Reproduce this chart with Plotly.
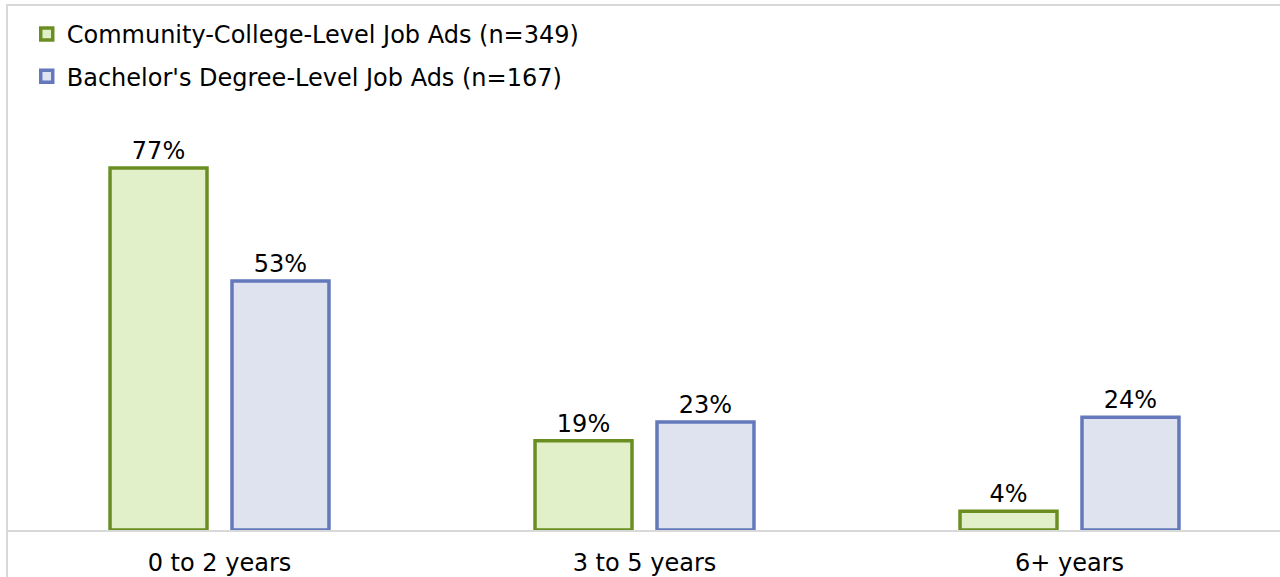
import plotly.graph_objects as go

categories = ["0 to 2 years", "3 to 5 years", "6+ years"]
cc_values = [77, 19, 4]
ba_values = [53, 23, 24]
cc_name = "Community-College-Level Job Ads (n=349)"
ba_name = "Bachelor's Degree-Level Job Ads (n=167)"

FONT = "DejaVu Sans"
FS = 24
fig = go.Figure()
fig.add_trace(go.Bar(
    x=categories, y=cc_values, name=cc_name, legendgroup="a",
    marker=dict(color="#E2F0C9", line=dict(color="#6B8E23", width=3.5)),
    text=[f"{v}%" for v in cc_values], textposition="outside",
    textfont=dict(size=FS, color="#000000", family=FONT), cliponaxis=False,
))
fig.add_trace(go.Bar(
    x=categories, y=ba_values, name=ba_name, legendgroup="b",
    marker=dict(color="#DFE3EF", line=dict(color="#6479BC", width=3.5)),
    text=[f"{v}%" for v in ba_values], textposition="outside",
    textfont=dict(size=FS, color="#000000", family=FONT), cliponaxis=False,
))

fig.update_layout(
    width=1280, height=577,
    margin=dict(l=7, r=0, t=100, b=47),
    paper_bgcolor="white", plot_bgcolor="white",
    barmode="group", bargap=0.426, bargroupgap=0.205,
    font=dict(family=FONT, size=FS, color="#000000"),
    showlegend=True,
    legend=dict(x=0.0155, y=1.205, xanchor="left", yanchor="top",
                traceorder="grouped", tracegroupgap=8,
                font=dict(size=FS, family=FONT), bgcolor="rgba(0,0,0,0)"),
    xaxis=dict(range=[-0.5, -0.5 + 1273 / 425], showline=True, linecolor="#D9D9D9",
               linewidth=2, ticks="", showgrid=False, tickfont=dict(size=FS),
               ticklabelstandoff=10),
    yaxis=dict(range=[0, 430 / 4.70], visible=False, showgrid=False, zeroline=False),
    shapes=[dict(type="rect", xref="paper", yref="paper", x0=0, x1=1.2,
                 y0=-0.3, y1=(530 - 5) / 430, line=dict(color="#D9D9D9", width=2),
                 layer="below")],
)
fig.write_html("out.html", config={"displayModeBar": False},
               post_script="document.body.style.margin='0';")
